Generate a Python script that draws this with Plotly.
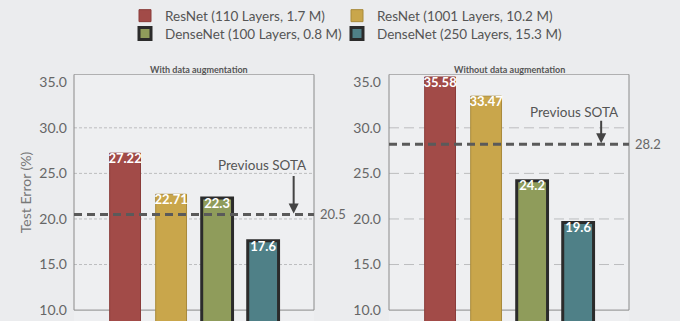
import plotly.graph_objects as go

# ---- data ----
models = ["ResNet (110 Layers, 1.7 M)", "ResNet (1001 Layers, 10.2 M)",
          "DenseNet (100 Layers, 0.8 M)", "DenseNet (250 Layers, 15.3 M)"]
with_aug = [27.22, 22.71, 22.3, 17.6]
without_aug = [35.58, 33.47, 24.2, 19.6]
with_labels = ["27.22", "22.71", "22.3", "17.6"]
without_labels = ["35.58", "33.47", "24.2", "19.6"]
panel_titles = ["With data augmentation", "Without data augmentation"]
sota = [20.5, 28.2]
sota_labels = ["20.5", "28.2"]
y_ticks = [10, 15, 20, 25, 30, 35]
y_tick_labels = ["10.0", "15.0", "20.0", "25.0", "30.0", "35.0"]
grid_vals = [15, 20, 25, 30]

colors = ["#a24b48", "#c9a64b", "#8f9c5b", "#4f8087"]
line_colors = ["#8a3c3a", "#a88a3a", "#2b2b2b", "#2b2b2b"]
line_widths = [1, 1, 3, 3]

W, H = 680, 321
FONT = "Lato"

fig = go.Figure()

legend_ids = ["legend", "legend2", "legend3", "legend4"]
positions = list(range(len(models)))
panels = [(with_aug, with_labels, "x", "y"), (without_aug, without_labels, "x2", "y2")]
for p, (vals, labs, xa, ya) in enumerate(panels):
    for i in positions:
        fig.add_trace(go.Bar(
            x=[i], y=[vals[i]], xaxis=xa, yaxis=ya, width=0.67,
            name=models[i], legend=legend_ids[i],
            showlegend=(p == 0),
            marker=dict(color=colors[i], line=dict(color=line_colors[i], width=line_widths[i])),
            hoverinfo="skip"))
    fig.add_trace(go.Scatter(
        x=positions, y=vals, xaxis=xa, yaxis=ya, mode="text", text=labs,
        textposition="bottom center", showlegend=False, cliponaxis=False,
        textfont=dict(color="white", size=13, family=FONT, weight="bold")))

xr = [-1.11, 4.105]
yr = [8.804, 35.87]
dom_y = [0, 1 - 72 / H]


def leg(xpx, ypx):
    return dict(orientation="h", x=xpx / W, xanchor="left", y=1 - ypx / H, yanchor="middle",
                bgcolor="rgba(0,0,0,0)", font=dict(size=13.5, color="#555"), itemwidth=30)


fig.update_layout(
    width=W, height=H, margin=dict(l=0, r=0, t=0, b=0),
    paper_bgcolor="#ebecee", plot_bgcolor="#eeeff1",
    barmode="overlay",
    font=dict(family=FONT, color="#555"),
    xaxis=dict(domain=[74 / W, 314 / W], range=xr, showticklabels=False, showgrid=False, zeroline=False),
    xaxis2=dict(domain=[389 / W, 629 / W], range=xr, showticklabels=False, showgrid=False, zeroline=False),
    yaxis=dict(domain=dom_y, range=yr, tickvals=y_ticks, ticktext=y_tick_labels, showgrid=False,
               zeroline=False, ticklabelstandoff=6, tickfont=dict(size=14, color="#666")),
    yaxis2=dict(domain=dom_y, range=yr, tickvals=y_ticks, ticktext=y_tick_labels, showgrid=False,
                zeroline=False, ticklabelstandoff=7, tickfont=dict(size=14, color="#666"), anchor="x2"),
    legend=leg(125, 13), legend2=leg(337, 13), legend3=leg(125, 31), legend4=leg(337, 31),
)

shapes = []
annotations = []
grid_dash = ["3px,2px", "10px,5px"]
for p, (xa, ya) in enumerate([("x", "y"), ("x2", "y2")]):
    # gridlines
    for g in grid_vals:
        shapes.append(dict(type="line", xref=f"{xa} domain", yref=ya, x0=0, x1=1, y0=g, y1=g,
                           line=dict(color="#bcbdbf", width=1, dash=grid_dash[p]), layer="below"))
    # box
    shapes.append(dict(type="rect", xref=f"{xa} domain", yref=ya, x0=0, x1=1, y0=y_ticks[0], y1=yr[1],
                       line=dict(color="#8a8a8a", width=1), layer="below"))
    # previous SOTA line
    shapes.append(dict(type="line", xref=f"{xa} domain", yref=ya, x0=0, x1=1, y0=sota[p], y1=sota[p],
                       line=dict(color="#5a5a5a", width=3, dash="8px,5px"), layer="above"))
    annotations.append(dict(xref=f"{xa} domain", yref=ya, x=1, y=sota[p], text=sota_labels[p],
                            showarrow=False, xanchor="left", xshift=4, font=dict(size=13, color="#666")))
    annotations.append(dict(xref=f"{xa} domain", yref="paper", x=0.5, y=1 - 67 / H, text=f"<b>{panel_titles[p]}</b>",
                            showarrow=False, xshift=5 if p == 0 else 0, yanchor="middle",
                            font=dict(size=9, color="#555")))

# "Previous SOTA" notes with arrows
note_pos = [(2.98, 25.87, 3.663, -40), (2.92, 31.74, 3.5, -25)]
for p, (xa, ya) in enumerate([("x", "y"), ("x2", "y2")]):
    tx, ty, axx, alen = note_pos[p]
    annotations.append(dict(xref=xa, yref=ya, x=tx, y=ty, text="Previous SOTA", showarrow=False,
                            font=dict(size=13.5, color="#555")))
    annotations.append(dict(xref=xa, yref=ya, x=axx, y=sota[p], text="", showarrow=True,
                            ax=0, ay=alen, arrowhead=2, arrowsize=1, arrowwidth=2, arrowcolor="#444",
                            standoff=1))

annotations.append(dict(xref="paper", yref="paper", x=25 / W, y=1 - 191 / H, text="Test Error (%)",
                        textangle=-90, showarrow=False, xanchor="center", yanchor="middle",
                        font=dict(size=14, color="#777")))

fig.update_layout(shapes=shapes, annotations=annotations)
fig.write_html("out.html")
